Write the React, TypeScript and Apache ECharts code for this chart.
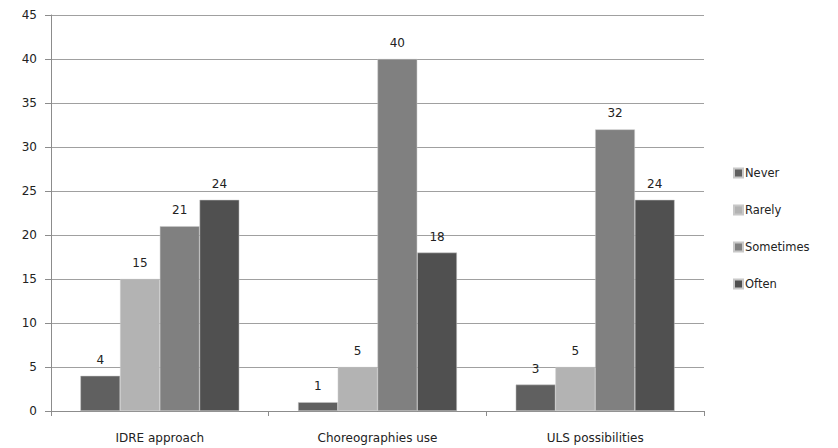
import React, { useEffect, useRef } from "react";
import * as echarts from "echarts";

const categories = ["IDRE approach", "Choreographies use", "ULS possibilities"];
const seriesNames = ["Never", "Rarely", "Sometimes", "Often"];
const never = [4, 1, 3];
const rarely = [15, 5, 5];
const sometimes = [21, 40, 32];
const often = [24, 18, 24];
const colors = ["#606060", "#b3b3b3", "#808080", "#505050"];

const FONT = "'DejaVu Sans', sans-serif";

export default function App() {
  const ref = useRef<HTMLDivElement>(null);

  useEffect(() => {
    if (!ref.current) return;
    const chart = echarts.init(ref.current, undefined, { renderer: "svg" });
    const values = [never, rarely, sometimes, often];
    chart.setOption({
      animation: false,
      backgroundColor: "#ffffff",
      grid: { left: 51, right: 134, top: 15, bottom: 37 },
      legend: {
        orient: "vertical",
        left: 728,
        top: 162,
        itemWidth: 9,
        itemHeight: 9,
        itemGap: 25,
        icon: "rect",
        textStyle: { fontFamily: FONT, fontSize: 11.5, color: "#222", padding: [0, 0, 0, -3] },
        data: seriesNames,
      },
      xAxis: {
        type: "category",
        data: categories,
        axisLine: { lineStyle: { color: "#8c8c8c", width: 1 } },
        axisTick: { show: true, length: 5, lineStyle: { color: "#8c8c8c" } },
        axisLabel: { fontFamily: FONT, fontSize: 12, color: "#222", margin: 21 },
      },
      yAxis: {
        type: "value",
        min: 0,
        max: 45,
        interval: 5,
        axisLine: { show: true, lineStyle: { color: "#8c8c8c", width: 1 } },
        axisTick: { show: true, length: 6, lineStyle: { color: "#8c8c8c" } },
        axisLabel: { fontFamily: FONT, fontSize: 12, color: "#222", margin: 14 },
        splitLine: { lineStyle: { color: "#a0a0a0", width: 1 } },
      },
      series: seriesNames.map((name, i) => ({
        name,
        type: "bar",
        data: values[i],
        barGap: "0%",
        barCategoryGap: "27%",
        itemStyle: { color: colors[i], borderColor: "#c8c8c8", borderWidth: 0.5 },
        label: {
          show: true,
          position: "top",
          distance: 10,
          fontFamily: FONT,
          fontSize: 12,
          color: "#222222",
          textBorderWidth: 0,
        },
      })),
    });
    return () => chart.dispose();
  }, []);

  return <div ref={ref} style={{ width: 838, height: 448, position: "absolute", left: 0, top: 0 }} />;
}
